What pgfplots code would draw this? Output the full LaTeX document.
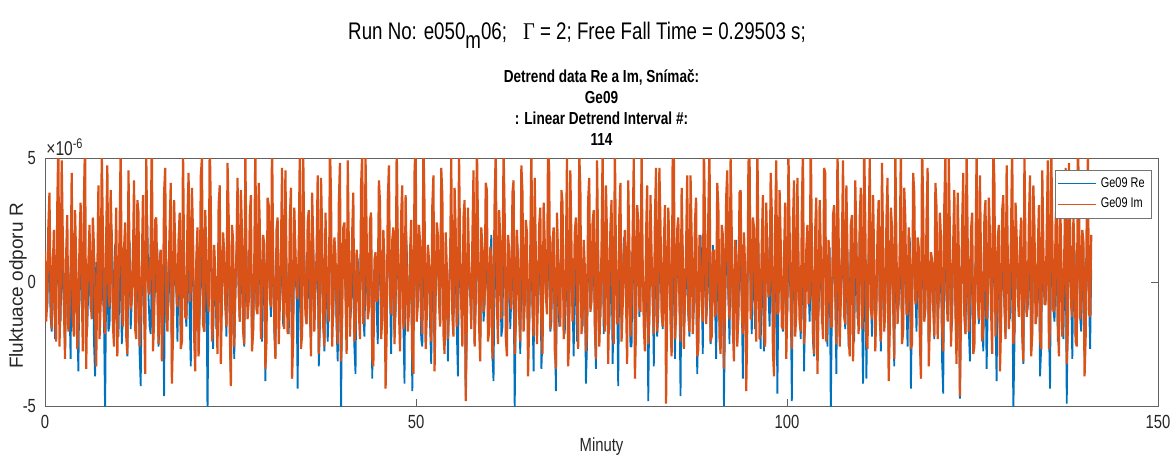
\documentclass[border=0pt]{standalone}
\usepackage{pgfplots}
\pgfplotsset{compat=1.18}
\usepackage{pgfplotstable}
\usepackage{fontspec}
\setmainfont{Liberation Sans}[FakeStretch=0.78]
\newfontfamily\plainsans{Liberation Sans}
\newfontfamily\serifgr{Liberation Serif}[FakeStretch=0.85]
\definecolor{mblue}{rgb}{0,0.447,0.741}
\definecolor{morange}{rgb}{0.85,0.325,0.098}
\definecolor{maxis}{rgb}{0.38,0.38,0.38}
\definecolor{mtext}{rgb}{0.15,0.15,0.15}
\pgfplotstableread{
t re im
0.0 0.4 1.2
0.15 -0.5 -1.6
0.3 -1.1 -0.8
0.45 0.8 2.2
0.6 1.3 3.6
0.75 -1.4 -0.3
0.9 -2.0 -1.9
1.05 0.3 0.6
1.2 0.7 2.1
1.35 -2.3 -1.4
1.5 -0.3 -2.4
1.65 0.1 3.0
1.8 1.5 5.6
1.95 -0.7 -2.6
2.1 -1.6 -0.6
2.25 1.2 4.9
2.4 0.2 1.8
2.55 -1.0 -0.9
2.7 -2.7 -3.1
2.85 -0.2 1.1
3.0 0.9 2.7
3.15 0.6 -2.0
3.3 -0.8 -1.2
3.45 -3.1 0.4
3.6 1.8 4.4
3.75 0.2 -1.5
3.9 -1.4 -2.2
4.05 1.0 2.9
4.2 0.5 0.9
4.35 -1.7 -2.7
4.5 -3.6 -1.7
4.65 0.4 1.6
4.8 1.1 3.2
4.95 -0.9 -0.1
5.1 -0.6 -2.8
5.25 1.6 3.4
5.4 0.3 5.8
5.55 -2.2 -3.5
5.7 -1.9 -0.4
5.85 0.0 0.8
6.0 1.4 2.3
6.15 -1.1 -0.7
6.3 -0.2 -1.5
6.45 0.9 2.6
6.6 -2.4 1.4
6.75 -3.8 -1.2
6.9 0.8 -3.4
7.05 0.5 0.2
7.2 -1.2 3.9
7.35 -0.6 -2.3
7.5 1.7 -0.9
7.65 1.3 5.3
7.8 -0.5 2.0
7.95 -1.5 -1.4
8.1 -5.3 -2.1
8.25 0.2 1.9
8.4 0.6 4.7
8.55 -2.0 -0.5
8.7 -1.7 -1.0
8.85 0.7 3.7
9.0 2.1 1.6
9.15 -0.4 -1.7
9.3 -0.9 -2.6
9.45 1.5 0.5
9.6 0.1 3.0
9.75 -1.2 -3.0
9.9 -2.2 -0.2
10.05 0.3 2.0
10.2 1.0 5.5
10.35 -2.5 -0.8
10.5 -1.3 -1.8
10.65 1.1 1.3
10.8 0.4 2.4
10.95 -0.8 -2.2
11.1 -3.0 -2.9
11.25 0.6 4.5
11.4 1.6 1.1
11.55 -1.9 -1.1
11.7 -0.7 -0.7
11.85 1.4 0.9
12.0 0.9 4.1
12.15 -0.3 -1.9
12.3 -1.5 -2.3
12.45 0.8 3.3
12.6 0.0 2.8
12.75 -2.9 -2.6
12.9 -4.2 -1.3
13.05 0.4 0.6
13.2 1.2 3.5
13.35 -1.3 -1.0
13.5 -0.4 -3.7
13.65 1.7 5.1
13.8 2.3 0.8
13.95 -0.6 -0.4
14.1 -1.8 -0.5
14.25 -2.1 1.8
14.4 0.6 6.0
14.55 0.9 -2.8
14.7 -1.0 -1.6
14.85 -0.2 2.5
15.0 1.5 2.6
15.15 1.3 -0.6
15.3 -2.6 -2.5
15.45 -1.6 1.0
15.6 0.3 1.3
15.75 0.5 -3.2
15.9 -0.8 -1.1
16.05 -4.6 3.6
16.2 1.9 4.6
16.35 0.7 -1.3
16.5 -1.2 -2.0
16.65 -0.9 0.3
16.8 0.7 2.2
16.95 1.8 4.0
17.1 -3.3 -4.1
17.25 -1.4 -2.1
17.4 1.1 3.3
17.55 0.0 1.4
17.7 -0.3 -0.3
17.85 -2.4 -1.0
18.0 0.5 1.7
18.15 1.0 2.8
18.3 -2.1 -2.7
18.45 -0.5 -2.4
18.6 1.4 5.4
18.75 0.6 0.7
18.9 -0.9 -1.4
19.05 -1.8 -1.5
19.2 0.2 2.5
19.35 1.2 4.4
19.5 -1.6 -0.8
19.65 -3.4 -0.3
19.8 2.0 3.8
19.95 0.3 1.9
20.1 -0.6 -2.2
20.25 -0.8 -3.6
20.4 0.8 1.0
20.55 1.6 2.2
20.7 -2.8 -3.0
20.85 -1.2 -0.9
21.0 1.3 4.3
21.15 0.4 5.0
21.3 -1.1 -1.7
21.45 -2.0 -2.0
21.6 0.0 2.9
21.75 0.9 0.9
21.9 -5.4 -0.6
22.05 -0.6 -1.2
22.2 1.7 5.7
22.35 1.4 3.0
22.5 -0.5 -2.4
22.65 -2.7 -1.7
22.8 0.9 1.5
22.95 0.1 0.4
23.1 -1.9 -1.2
23.25 -1.0 -2.9
23.4 0.4 3.1
23.55 1.9 3.9
23.7 -2.3 -3.3
23.85 -0.4 -0.6
24.0 1.6 2.0
24.15 0.7 1.2
24.3 -0.7 -0.9
24.45 -2.2 -1.8
24.6 1.0 4.8
24.75 1.1 2.7
24.9 -1.4 -1.9
25.05 -3.9 -4.2
25.2 0.3 2.3
25.35 0.5 1.7
25.5 -3.1 -2.6
25.65 -0.7 -0.3
25.8 1.2 1.2
25.95 1.5 4.2
26.1 -0.2 -0.4
26.25 -1.6 -1.6
26.4 2.2 3.7
26.55 0.2 2.0
26.7 -1.7 -2.0
26.85 -2.6 -2.5
27.0 0.6 5.2
27.15 1.3 1.0
27.3 -0.8 -1.5
27.45 -0.3 -0.8
27.6 1.5 2.7
27.75 0.8 3.5
27.9 -2.5 -2.8
28.05 -1.9 -2.0
28.2 0.1 0.7
28.35 1.0 5.6
28.5 -1.0 -1.1
28.65 -0.8 -1.3
28.8 1.8 4.0
28.95 0.4 2.3
29.1 -1.3 -2.3
29.25 -2.4 -0.4
29.4 0.5 1.9
29.55 1.6 1.5
29.7 -4.0 -3.5
29.85 -0.5 -2.4
30.0 1.1 3.4
30.15 0.6 3.1
30.3 -0.4 -0.7
30.45 -1.4 -1.0
30.6 0.8 5.9
30.75 1.2 0.8
30.9 -2.0 -1.6
31.05 -3.0 -3.1
31.2 1.4 2.1
31.35 0.3 2.6
31.5 -0.6 -2.5
31.65 -1.0 -0.9
31.8 0.2 1.4
31.95 1.7 4.6
32.1 -1.8 -1.0
32.25 -0.6 -1.9
32.4 2.0 4.5
32.55 0.5 0.5
32.7 -1.1 -2.1
32.85 -2.1 -1.4
33.0 0.7 2.6
33.15 1.4 3.8
33.3 -2.9 -3.9
33.45 -1.3 -2.2
33.6 1.3 3.0
33.75 0.0 1.3
33.9 -0.3 -0.2
34.05 -4.3 -0.7
34.2 0.9 1.6
34.35 0.9 5.5
34.5 -2.2 -2.7
34.65 -0.7 -2.1
34.8 1.6 5.3
34.95 1.1 1.0
35.1 -0.9 -1.3
35.25 -1.7 -1.7
35.4 0.4 2.4
35.55 0.4 2.9
35.7 -1.5 -0.9
35.85 -2.3 -3.0
36.0 1.9 3.6
36.15 1.5 1.6
36.3 -0.5 -2.0
36.45 -0.4 -0.2
36.6 0.6 1.1
36.75 0.8 4.3
36.9 -3.4 -2.9
37.05 -1.8 -1.2
37.2 1.2 4.2
37.35 1.0 2.0
37.5 -1.2 -1.8
37.65 -2.8 -2.6
37.8 0.0 2.8
37.95 0.2 0.7
38.1 -2.4 -1.0
38.25 -0.9 -1.6
38.4 1.7 5.6
38.55 1.8 3.4
38.7 -0.7 -2.6
38.85 -1.5 -0.8
39.0 1.0 1.8
39.15 0.6 1.1
39.3 -1.9 -1.4
39.45 -3.2 -2.5
39.6 0.3 3.2
39.75 1.3 4.8
39.9 -5.2 -3.2
40.05 -0.2 -1.4
40.2 1.5 2.2
40.35 0.7 2.4
40.5 -0.4 -0.6
40.65 -2.0 -2.9
40.8 0.8 4.9
40.95 1.6 1.4
41.1 -1.6 -2.2
41.25 -1.1 -0.3
41.4 0.5 2.0
41.55 0.3 3.6
41.7 -2.7 -2.4
41.85 -3.7 -1.9
42.0 1.1 1.3
42.15 0.9 0.5
42.3 -0.2 -1.2
42.45 -0.6 -2.3
42.6 2.1 3.9
42.75 1.2 5.2
42.9 -1.4 -1.7
43.05 -2.2 -0.9
43.2 0.6 5.0
43.35 0.5 1.9
43.5 -0.9 -1.5
43.65 -1.0 -1.1
43.8 1.4 2.5
43.95 1.9 2.8
44.1 -3.9 -3.0
44.25 -0.8 -3.4
44.4 0.2 0.9
44.55 0.4 1.2
44.7 -1.2 -0.8
44.85 -2.5 -0.6
45.0 1.8 4.1
45.15 1.0 3.2
45.3 -1.0 -2.3
45.45 -1.6 -1.5
45.6 0.7 2.1
45.75 0.1 0.8
45.9 -2.6 -4.3
46.05 -0.7 -2.0
46.2 1.3 3.3
46.35 1.5 4.7
46.5 -0.5 -0.5
46.65 -2.9 -1.3
46.8 0.9 1.7
46.95 0.6 2.2
47.1 -2.1 -2.5
47.25 -1.2 -0.7
47.4 1.6 5.5
47.55 1.1 1.5
47.7 -0.8 -1.1
47.85 -0.5 -2.8
48.0 0.3 2.7
48.15 0.8 3.9
48.3 -1.7 -1.9
48.45 -4.1 -1.6
48.6 2.2 3.5
48.75 1.4 0.4
48.9 -0.6 -2.0
49.05 -1.1 -1.2
49.2 0.5 1.2
49.35 0.2 2.5
49.5 -4.4 -2.8
49.65 -1.8 -3.7
49.8 1.0 4.4
49.95 1.7 5.7
50.1 -1.3 -1.6
50.25 -0.4 -0.9
50.4 0.1 2.3
50.55 0.7 1.6
50.7 -2.3 -1.3
50.85 -2.6 -2.1
51.0 1.5 5.8
51.15 1.2 3.0
51.3 -0.4 -2.7
51.45 -0.9 -1.4
51.6 0.8 1.5
51.75 0.3 0.9
51.9 -1.8 -0.9
52.05 -3.3 -2.4
52.2 0.4 3.1
52.35 1.6 4.3
52.5 -2.8 -3.6
52.65 -0.2 -0.5
52.8 1.2 2.4
52.95 0.9 1.9
53.1 -0.7 -0.7
53.25 -1.7 -1.8
53.4 1.9 4.6
53.55 1.0 3.5
53.7 -1.1 -2.1
53.85 -2.4 -2.9
54.0 0.6 2.0
54.15 0.4 0.6
54.3 -3.2 -2.3
54.45 -0.6 -1.0
54.6 1.4 1.0
54.75 1.8 5.0
54.9 -0.3 -1.4
55.05 -1.4 -2.2
55.2 0.7 3.8
55.35 0.5 2.1
55.5 -2.0 -1.8
55.65 -3.8 -1.1
55.8 1.7 5.1
55.95 1.1 1.2
56.1 -0.9 -1.0
56.25 -0.7 -2.6
56.4 0.2 2.6
56.55 1.4 3.3
56.7 -4.6 -4.8
56.85 -2.0 -1.5
57.0 1.1 3.0
57.15 0.3 0.7
57.3 -0.5 -0.4
57.45 -1.2 -1.9
57.6 0.9 1.8
57.75 1.6 4.5
57.9 -2.5 -2.6
58.05 -0.5 -0.8
58.2 1.6 5.7
58.35 0.8 2.4
58.5 -1.2 -1.7
58.65 -2.7 -3.2
58.8 0.4 2.2
58.95 1.2 1.4
59.1 -1.6 -1.2
59.25 -0.9 -0.6
59.4 2.0 4.0
59.55 0.1 3.7
59.7 -0.6 -2.4
59.85 -1.5 -2.0
60.0 0.8 1.4
60.15 1.9 1.0
60.3 -3.0 -3.1
60.45 -4.0 -1.3
60.6 1.3 3.4
60.75 0.6 5.3
60.9 -1.0 -0.8
61.05 -0.3 -2.5
61.2 0.0 2.9
61.35 1.3 1.8
61.5 -2.2 -1.5
61.65 -1.8 -0.4
61.8 1.5 5.4
61.95 0.7 2.7
62.1 -0.4 -2.2
62.25 -2.3 -3.0
62.4 1.0 1.9
62.55 1.5 1.3
62.7 -1.9 -0.6
62.85 -0.6 -1.1
63.0 0.5 3.6
63.15 0.2 4.1
63.3 -5.1 -2.9
63.45 -1.3 -1.7
63.6 1.8 2.1
63.75 1.0 0.8
63.9 -0.8 -1.3
64.05 -2.9 -2.4
64.2 0.3 4.7
64.35 1.7 3.6
64.5 -1.5 -2.0
64.65 -0.4 -0.9
64.8 1.2 2.5
64.95 0.5 2.0
65.1 -2.7 -3.8
65.25 -1.9 -1.6
65.4 0.6 1.2
65.55 1.2 5.6
65.7 -1.1 -0.9
65.85 -3.6 -2.2
66.0 2.1 4.2
66.15 0.8 1.1
66.3 -0.5 -2.5
66.45 -1.0 -0.5
66.6 0.9 2.3
66.75 1.4 3.0
66.9 -3.5 -1.7
67.05 -2.2 -2.9
67.2 1.4 3.2
67.35 0.3 1.6
67.5 -0.2 -0.5
67.65 -0.8 -1.3
67.8 0.7 5.9
67.95 1.8 4.4
68.1 -2.0 -1.9
68.25 -1.6 -0.7
68.4 1.6 1.6
68.55 0.6 2.2
68.7 -1.3 -2.7
68.85 -4.4 -3.5
69.0 0.1 2.8
69.15 1.1 1.0
69.3 -1.8 -1.1
69.45 -0.5 -1.8
69.6 1.9 3.7
69.75 0.9 3.2
69.9 -0.7 -2.3
70.05 -2.1 -1.0
70.2 0.5 1.0
70.35 1.6 5.1
70.5 -2.9 -3.4
70.65 -1.2 -2.3
70.8 1.1 4.5
70.95 0.4 1.5
71.1 -0.9 -1.6
71.25 -3.0 -0.6
71.4 0.4 2.0
71.55 0.8 2.6
71.7 -2.4 -0.7
71.85 -0.7 -2.7
72.0 1.3 5.2
72.15 1.5 3.8
72.3 -0.3 -2.1
72.45 -1.8 -1.4
72.6 0.8 1.7
72.75 0.2 0.6
72.9 -4.1 -2.8
73.05 -2.5 -1.9
73.2 1.7 3.3
73.35 1.3 4.2
73.5 -1.0 -1.2
73.65 -0.4 -0.8
73.8 0.2 2.4
73.95 0.7 2.9
74.1 -1.6 -1.8
74.25 -3.5 -3.1
74.4 2.0 4.9
74.55 1.0 1.2
74.7 -0.6 -2.6
74.85 -1.4 -1.1
75.0 0.9 1.3
75.15 1.9 5.4
75.3 -2.1 -0.9
75.45 -0.6 -2.0
75.6 1.5 3.9
75.75 0.4 1.7
75.9 -1.2 -3.3
76.05 -2.0 -0.4
76.2 0.3 2.2
76.35 1.2 3.3
76.5 -3.3 -1.4
76.65 -0.9 -2.5
76.8 1.0 5.6
76.95 0.6 0.9
77.1 -0.4 -1.7
77.25 -4.2 -1.6
77.4 0.6 2.7
77.55 1.6 4.0
77.7 -1.9 -2.4
77.85 -0.3 -1.0
78.0 1.8 1.1
78.15 0.9 2.1
78.3 -0.8 -0.6
78.45 -1.7 -3.3
78.6 0.4 4.1
78.75 1.3 1.5
78.9 -2.6 -2.2
79.05 -2.6 -0.7
79.2 1.2 2.0
79.35 0.5 5.0
79.5 -0.5 -3.9
79.65 -1.1 -1.9
79.8 0.7 3.1
79.95 1.7 2.5
80.1 -1.4 -1.0
80.25 -0.5 -1.2
80.4 2.1 5.3
80.55 0.2 0.7
80.7 -1.1 -1.8
80.85 -2.3 -2.8
81.0 0.5 1.8
81.15 1.4 3.9
81.3 -4.8 -2.5
81.45 -0.8 -1.5
81.6 1.4 3.5
81.75 0.6 1.1
81.9 -0.2 -0.8
82.05 -3.4 -2.1
82.2 0.9 2.6
82.35 1.1 4.6
82.5 -2.2 -2.0
82.65 -1.3 -0.6
82.8 1.6 4.6
82.95 0.3 2.3
83.1 -0.7 -1.3
83.25 -1.9 -1.8
83.4 0.1 1.5
83.55 1.8 3.1
83.7 -1.7 -4.9
83.85 -0.6 -0.9
84.0 1.9 3.0
84.15 0.8 1.4
84.3 -0.9 -1.6
84.45 -2.8 -3.0
84.6 0.6 5.8
84.75 1.2 5.2
84.9 -3.1 -2.3
85.05 -0.7 -1.4
85.2 1.3 2.1
85.35 0.4 2.6
85.5 -0.4 -0.7
85.65 -4.6 -2.4
85.8 1.0 3.8
85.95 1.5 1.0
86.1 -2.0 -2.7
86.25 -1.0 -0.5
86.4 0.3 1.4
86.55 0.7 4.3
86.7 -1.3 -1.2
86.85 -2.2 -2.0
87.0 1.7 4.3
87.15 1.3 1.8
87.3 -0.6 -2.1
87.45 -0.4 -1.0
87.6 0.8 2.5
87.75 0.1 3.4
87.9 -3.7 -3.0
88.05 -1.6 -2.7
88.2 1.1 1.9
88.35 1.9 0.8
88.5 -0.1 -0.9
88.65 -2.9 -1.6
88.8 2.2 5.5
88.95 0.6 2.4
89.1 -1.5 -1.7
89.25 -0.9 -0.3
89.4 0.4 2.8
89.55 1.2 5.6
89.7 -2.5 -2.4
89.85 -1.7 -2.2
90.0 1.5 1.2
90.15 0.5 1.3
90.3 -0.8 -1.4
90.45 -3.1 -1.2
90.6 0.6 4.0
90.75 1.6 3.0
90.9 -1.8 -2.2
91.05 -0.5 -2.9
91.2 1.2 2.3
91.35 0.8 1.9
91.5 -5.0 -3.5
91.65 -1.3 -0.6
91.8 0.9 3.4
91.95 1.4 4.5
92.1 -0.5 -0.5
92.25 -2.5 -1.5
92.4 1.8 5.0
92.55 0.3 2.0
92.7 -1.0 -1.9
92.85 -0.8 -3.2
93.0 0.2 1.7
93.15 1.7 1.1
93.3 -2.3 -2.6
93.45 -1.5 -1.0
93.6 1.4 3.6
93.75 0.6 3.7
93.9 -0.7 -1.1
94.05 -3.9 -2.1
94.2 0.7 2.0
94.35 1.0 0.6
94.5 -3.4 -4.4
94.65 -0.6 -1.7
94.8 1.6 4.8
94.95 1.3 5.3
95.1 -0.3 -1.5
95.25 -2.1 -0.8
95.4 0.5 2.6
95.55 0.7 2.2
95.7 -1.9 -0.8
95.85 -1.0 -2.4
96.0 2.0 5.7
96.15 1.5 1.4
96.3 -1.2 -2.3
96.45 -2.7 -1.1
96.6 0.8 1.6
96.75 0.4 3.5
96.9 -2.8 -2.0
97.05 -0.7 -2.6
97.2 1.0 3.2
97.35 1.8 1.0
97.5 -0.4 -0.6
97.65 -1.8 -0.5
97.8 0.3 4.4
97.95 0.9 2.8
98.1 -1.6 -2.8
98.25 -3.3 -3.8
98.4 1.7 2.2
98.55 1.2 4.9
98.7 -4.5 -1.3
98.85 -0.4 -1.2
99.0 1.1 3.7
99.15 0.5 1.6
99.3 -0.9 -1.8
99.45 -2.0 -1.9
99.6 0.6 1.1
99.75 1.6 3.2
99.9 -2.1 -3.1
100.05 -1.1 -0.7
100.2 1.5 5.1
100.35 0.2 2.1
100.5 -0.6 -1.0
100.65 -4.8 -2.7
100.8 0.9 2.4
100.95 1.3 4.1
101.1 -1.4 -2.2
101.25 -0.8 -1.3
101.4 2.1 4.2
101.55 0.6 0.9
101.7 -1.1 -1.6
101.85 -2.3 -2.0
102.0 0.2 2.9
102.15 1.7 5.5
102.3 -3.6 -2.5
102.45 -0.5 -1.6
102.6 1.3 1.3
102.75 0.9 2.3
102.9 -0.2 -0.9
103.05 -1.6 -0.6
103.2 0.7 5.9
103.35 1.1 1.5
103.5 -2.4 -2.0
103.65 -3.0 -2.9
103.8 1.6 2.1
103.95 0.3 3.4
104.1 -0.8 -3.7
104.25 -1.2 -1.0
104.4 0.4 3.3
104.55 1.5 1.2
104.7 -1.7 -1.2
104.85 -0.6 -2.3
105.0 1.9 4.6
105.15 0.8 4.4
105.3 -0.5 -2.4
105.45 -2.6 -1.4
105.6 1.0 1.7
105.75 1.4 0.7
105.9 -5.3 -1.8
106.05 -1.0 -1.8
106.2 1.2 2.7
106.35 0.5 3.1
106.5 -0.3 -0.4
106.65 -3.7 -2.5
106.8 0.8 5.4
106.95 1.8 2.0
107.1 -2.2 -2.6
107.25 -0.4 -0.7
107.4 1.4 1.5
107.55 0.7 4.9
107.7 -1.0 -1.4
107.85 -1.9 -1.7
108.0 0.1 3.9
108.15 1.2 1.1
108.3 -2.6 -2.1
108.45 -0.8 -3.0
108.6 1.7 2.3
108.75 0.4 2.7
108.9 -0.7 -3.2
109.05 -2.4 -0.9
109.2 0.6 4.1
109.35 1.6 1.6
109.5 -1.5 -0.7
109.65 -1.3 -2.1
109.8 2.0 2.6
109.95 0.9 3.8
110.1 -1.3 -1.9
110.25 -4.1 -1.2
110.4 0.3 5.6
110.55 1.1 2.4
110.7 -3.9 -2.3
110.85 -0.6 -2.7
111.0 1.1 1.9
111.15 1.4 5.0
111.3 -0.4 -1.1
111.45 -2.2 -1.5
111.6 0.9 3.5
111.75 0.3 0.8
111.9 -2.0 -2.8
112.05 -1.1 -0.8
112.2 1.5 2.0
112.35 1.7 3.3
112.5 -0.8 -1.5
112.65 -2.8 -2.4
112.8 0.5 4.8
112.95 0.6 1.5
113.1 -1.8 -2.0
113.25 -0.5 -1.1
113.4 1.8 2.5
113.55 1.0 4.2
113.7 -2.9 -4.0
113.85 -1.7 -1.9
114.0 0.7 3.0
114.15 1.5 2.2
114.3 -0.6 -0.8
114.45 -3.4 -3.1
114.6 1.2 5.3
114.75 0.2 1.3
114.9 -1.2 -1.7
115.05 -0.9 -0.6
115.2 0.2 1.4
115.35 1.3 5.6
115.5 -2.3 -2.5
115.65 -1.5 -2.0
115.8 1.6 3.8
115.95 0.7 2.5
116.1 -0.9 -1.3
116.25 -2.6 -1.3
116.4 0.4 2.2
116.55 1.8 1.0
116.7 -4.3 -2.7
116.85 -0.7 -2.5
117.0 1.3 4.4
117.15 0.5 3.6
117.3 -0.2 -0.9
117.45 -2.0 -0.7
117.6 0.8 1.8
117.75 1.1 1.4
117.9 -1.7 -2.2
118.05 -3.6 -3.9
118.2 2.1 5.8
118.35 0.9 2.9
118.5 -1.0 -1.6
118.65 -0.4 -1.1
118.8 0.6 2.4
118.95 1.4 4.6
119.1 -2.5 -3.4
119.25 -1.8 -1.7
119.4 1.0 1.2
119.55 0.3 0.9
119.7 -0.5 -1.0
119.85 -2.3 -2.2
120.0 1.7 4.0
120.15 1.6 3.0
120.3 -1.4 -2.3
120.45 -0.8 -0.5
120.6 0.3 2.8
120.75 0.6 1.8
120.9 -3.2 -1.8
121.05 -4.5 -2.8
121.2 1.4 3.1
121.35 1.2 5.1
121.5 -0.7 -0.5
121.65 -1.0 -1.6
121.8 0.9 5.0
121.95 0.4 2.0
122.1 -2.1 -2.6
122.25 -1.6 -0.9
122.4 1.5 1.6
122.55 1.9 3.7
122.7 -1.1 -1.2
122.85 -2.5 -3.3
123.0 0.0 3.6
123.15 0.7 1.2
123.3 -4.7 -4.6
123.45 -0.9 -1.3
123.6 1.9 2.3
123.75 1.3 4.4
123.9 -0.6 -1.4
124.05 -2.1 -2.1
124.2 0.5 5.5
124.35 0.8 1.6
124.5 -1.9 -2.0
124.65 -3.2 -0.6
124.8 1.2 2.1
124.95 1.5 2.8
125.1 -2.7 -2.9
125.25 -0.6 -2.6
125.4 0.8 1.0
125.55 0.4 5.3
125.7 -0.3 -0.7
125.85 -1.7 -1.5
126.0 2.0 4.3
126.15 1.1 0.7
126.3 -1.2 -2.4
126.45 -2.8 -1.9
126.6 0.4 2.6
126.75 0.6 3.3
126.9 -3.5 -1.5
127.05 -1.2 -0.8
127.2 1.6 3.4
127.35 1.7 1.9
127.5 -0.8 -1.1
127.65 -0.5 -2.9
127.8 0.7 5.7
127.95 0.9 4.0
128.1 -1.6 -2.2
128.25 -4.0 -1.2
128.4 1.1 1.8
128.55 1.4 2.3
128.7 -2.3 -3.6
128.85 -0.8 -1.7
129.0 0.2 2.9
129.15 0.5 3.5
129.3 -1.0 -0.8
129.45 -2.2 -2.3
129.6 1.8 4.7
129.75 1.2 1.1
129.9 -0.4 -1.9
130.05 -1.5 -0.6
130.2 0.9 2.2
130.35 0.7 5.7
130.5 -5.2 -2.5
130.65 -2.6 -2.0
130.8 1.3 3.2
130.95 1.8 1.8
131.1 -0.6 -0.6
131.25 -0.3 -1.4
131.4 0.6 1.5
131.55 1.0 2.6
131.7 -2.0 -2.1
131.85 -3.3 -3.2
132.0 1.5 5.2
132.15 0.4 1.0
132.3 -1.3 -1.4
132.45 -1.0 -0.7
132.6 0.3 2.5
132.75 1.5 4.3
132.9 -2.8 -3.0
133.05 -2.0 -2.1
133.2 1.7 3.9
133.35 0.8 2.2
133.5 -0.9 -1.7
133.65 -1.4 -1.3
133.8 0.5 1.3
133.95 1.3 3.1
134.1 -3.8 -2.3
134.25 -2.7 -2.7
134.4 1.0 4.5
134.55 0.6 1.4
134.7 -0.2 -0.9
134.85 -0.7 -0.9
135.0 0.8 2.0
135.15 1.6 4.9
135.3 -1.8 -2.7
135.45 -4.3 -1.8
135.6 2.2 5.9
135.75 0.9 2.0
135.9 -1.1 -1.2
136.05 -1.6 -1.1
136.2 0.4 2.4
136.35 1.1 3.4
136.5 -2.4 -1.6
136.65 -0.6 -3.0
136.8 1.4 3.6
136.95 0.3 1.2
137.1 -0.7 -2.2
137.25 -2.3 -0.6
137.4 0.6 1.7
137.55 1.7 4.6
137.7 -4.9 -3.3
137.85 -0.9 -1.9
138.0 1.2 4.8
138.15 0.5 2.4
138.3 -0.5 -1.0
138.45 -3.1 -1.4
138.6 0.9 2.7
138.75 1.3 1.0
138.9 -2.2 -2.4
139.05 -0.4 -2.6
139.2 1.6 5.4
139.35 0.8 3.8
139.5 -1.4 -1.5
139.65 -2.0 -0.8
139.8 0.2 2.1
139.95 1.4 1.6
140.1 -3.0 -3.8
140.25 -1.2 -2.2
140.4 1.1 3.0
140.55 0.6 5.0
140.7 -0.6 -1.3
140.85 -2.7 -1.4
141.0 0.5 1.9
}\datatab

\begin{document}
\begin{tikzpicture}
\begin{axis}[
  scale only axis,
  width=556.5pt, height=124pt,
  xmin=0, xmax=150, ymin=-5, ymax=5,
  xtick={0,50,100,150}, ytick={-5,0,5},
  minor tick num=0,
  tick align=inside,
  major tick length=3.5pt,
  tick style={color=maxis, line width=0.4pt},
  axis line style={color=maxis, line width=0.5pt},
  /pgf/number format/assume math mode=true,
  ticklabel style={font=\fontsize{9.5}{11}\selectfont, text=mtext},
  xticklabel style={yshift=-1pt},
  yticklabel style={xshift=-1pt},
  every axis x label/.style={at={(axis description cs:0.5,0)}, anchor=center, yshift=-20.5pt, font=\fontsize{9.5}{11}\selectfont, text=mtext},
  every axis y label/.style={at={(axis description cs:0,0.5)}, anchor=center, xshift=-13.5pt, yshift=-2pt, rotate=90, font=\plainsans\fontsize{9.5}{11}\selectfont, text=mtext},
  xlabel={Minuty},
  ylabel={Fluktuace odporu R},
  title style={at={(axis description cs:0.5,1)}, anchor=south, yshift=-3.5pt, align=center, font=\bfseries\fontsize{8.7}{10.5}\selectfont, text=black},
  title={Detrend data Re a Im, Snímač:\\Ge09\\: Linear Detrend Interval \#:\\114},
  legend style={at={(axis description cs:1,1)}, anchor=north east, xshift=-3pt, yshift=-6pt,
    draw=black!55, fill=white, font=\fontsize{7}{8}\selectfont, text=black,
    inner xsep=1.5pt, inner ysep=1.5pt, row sep=0pt},
  legend cell align=left,
  legend image code/.code={\draw[#1, line width=0.5pt] (0pt,0pt) -- (19pt,0pt);},
]
\addplot[mblue, line width=0.9pt, line join=bevel] table[x=t, y=re]{\datatab};
\addlegendentry{Ge09 Re}
\addplot[morange, line width=1.1pt, line join=bevel] table[x=t, y=im]{\datatab};
\addlegendentry{Ge09 Im}
\end{axis}
\node[anchor=south west, inner sep=0pt, font=\fontsize{10}{11}\selectfont, text=mtext] at (0.5pt,125pt) {×10\textsuperscript{-6}};
\node[font=\fontsize{12}{14}\selectfont, text=black] at (266pt,185.5pt) {Run No: e050\raisebox{-4.5pt}{m}06;\hspace{8pt}{\serifgr Γ} = 2; Free Fall Time = 0.29503 s;};
\pgfresetboundingbox
\useasboundingbox (-22.5pt,-25pt) rectangle (562.5pt,203pt);
\end{tikzpicture}
\end{document}
